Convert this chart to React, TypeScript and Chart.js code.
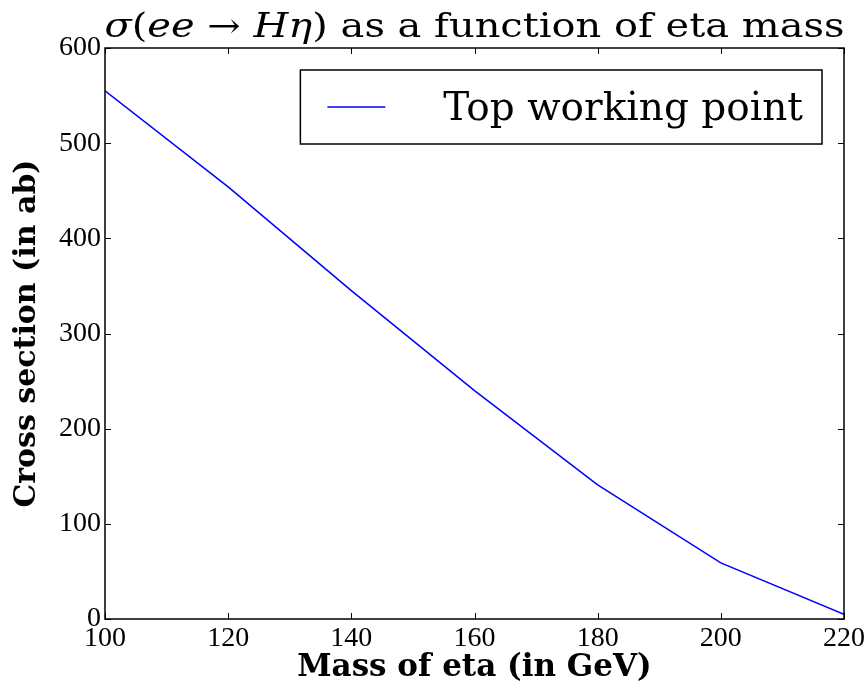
import React, { useEffect, useRef } from "react";
import { Chart, registerables } from "chart.js";

Chart.register(...registerables);

const massValues = [100, 120, 140, 160, 180, 200, 220];
const crossSection = [555, 454, 345, 240, 141, 59, 5];
const seriesLabel = "Top working point";
const xAxisLabel = "Mass of eta (in GeV)";
const yAxisLabel = "Cross section (in ab)";

const SERIF = "'DejaVu Serif', serif";
const TICKFONT = "'Liberation Serif', serif";

const framePlugin = {
  id: "framePlugin",
  afterDatasetsDraw(chart: any) {
    const { ctx, chartArea: a, scales } = chart;
    ctx.save();
    ctx.strokeStyle = "#000";
    ctx.lineWidth = 1.5;
    ctx.strokeRect(a.left, a.top, a.right - a.left, a.bottom - a.top);
    const L = 6;
    ctx.lineWidth = 1;
    ctx.beginPath();
    for (const t of scales.x.ticks) {
      const px = Math.round(scales.x.getPixelForValue(t.value)) + 0.5;
      ctx.moveTo(px, a.bottom);
      ctx.lineTo(px, a.bottom - L);
      ctx.moveTo(px, a.top);
      ctx.lineTo(px, a.top + L);
    }
    for (const t of scales.y.ticks) {
      const py = Math.round(scales.y.getPixelForValue(t.value)) + 0.5;
      ctx.moveTo(a.left, py);
      ctx.lineTo(a.left + L, py);
      ctx.moveTo(a.right, py);
      ctx.lineTo(a.right - L, py);
    }
    ctx.stroke();

    // legend
    const ds = chart.data.datasets[0];
    ctx.font = `39px ${SERIF}`;
    const tw = ctx.measureText(ds.label).width;
    const boxW = 143 + tw + 19;
    const boxH = 74;
    const bx = a.right - 22 - boxW;
    const by = a.top + 22;
    ctx.fillStyle = "#fff";
    ctx.fillRect(bx, by, boxW, boxH);
    ctx.strokeStyle = "#000";
    ctx.lineWidth = 1.5;
    ctx.strokeRect(bx, by, boxW, boxH);
    ctx.strokeStyle = ds.borderColor;
    ctx.lineWidth = 1.5;
    ctx.beginPath();
    ctx.moveTo(bx + 27, by + boxH / 2);
    ctx.lineTo(bx + 85, by + boxH / 2);
    ctx.stroke();
    ctx.fillStyle = "#000";
    ctx.textBaseline = "alphabetic";
    ctx.textAlign = "left";
    ctx.fillText(ds.label, bx + 143, by + 50);

    // title
    const segs: [string, boolean][] = [
      ["σ", true],
      ["(", false],
      ["ee", true],
      [" → ", false],
      ["Hη", true],
      [")", false],
      [" as a function of eta mass", false],
    ];
    const size = 34;
    let total = 0;
    for (const [s, it] of segs) {
      ctx.font = `${it ? "italic " : ""}${size}px ${SERIF}`;
      total += ctx.measureText(s).width;
    }
    const targetW = 740;
    const sx = targetW / total;
    const cx = (a.left + a.right) / 2;
    ctx.translate(cx - targetW / 2, 37);
    ctx.scale(sx, 1);
    let x = 0;
    for (const [s, it] of segs) {
      ctx.font = `${it ? "italic " : ""}${size}px ${SERIF}`;
      ctx.fillText(s, x, 0);
      x += ctx.measureText(s).width;
    }
    ctx.restore();
  },
};

function App() {
  const ref = useRef<HTMLCanvasElement | null>(null);
  useEffect(() => {
    document.body.style.margin = "0";
    const chart = new Chart(ref.current as HTMLCanvasElement, {
      type: "line",
      data: {
        datasets: [
          {
            label: seriesLabel,
            data: massValues.map((m, i) => ({ x: m, y: crossSection[i] })),
            borderColor: "#0000ff",
            borderWidth: 1.5,
            pointRadius: 0,
            tension: 0,
            fill: false,
          },
        ],
      },
      options: {
        animation: false,
        responsive: false,
        devicePixelRatio: 1,
        layout: { padding: { left: 0, right: 24, top: 48, bottom: 0 } },
        plugins: { legend: { display: false }, title: { display: false }, tooltip: { enabled: false } },
        scales: {
          x: {
            type: "linear",
            min: 100,
            max: 220,
            ticks: { stepSize: 20, color: "#000", padding: 3, font: { family: TICKFONT, size: 28 } },
            grid: { display: false, drawTicks: false },
            border: { display: false },
            title: { display: true, text: xAxisLabel, color: "#000", font: { family: SERIF, size: 31, weight: "bold" }, padding: { top: 0, bottom: 1 } },
            afterFit(s: any) { s.height = 69; },
          },
          y: {
            type: "linear",
            min: 0,
            max: 600,
            ticks: { stepSize: 100, color: "#000", padding: 4, font: { family: TICKFONT, size: 28 } },
            grid: { display: false, drawTicks: false },
            border: { display: false },
            title: { display: true, text: yAxisLabel, color: "#000", font: { family: SERIF, size: 30, weight: "bold" }, padding: { top: 9, bottom: 0 } },
            afterFit(s: any) { s.width = 105; },
          },
        },
      },
      plugins: [framePlugin],
    } as any);
    return () => chart.destroy();
  }, []);
  return <canvas ref={ref} width={868} height={688} style={{ display: "block" }} />;
}

export default App;
